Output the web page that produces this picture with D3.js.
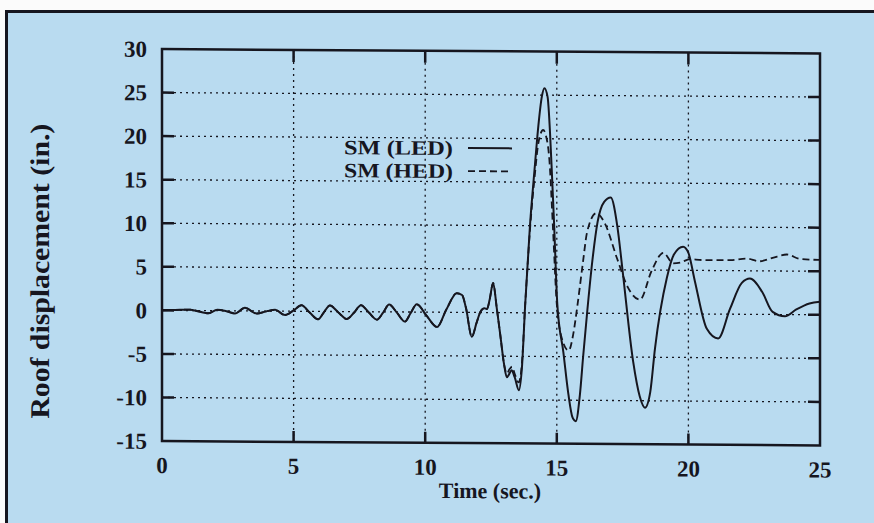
<!DOCTYPE html>
<html>
<head>
<meta charset="utf-8">
<script src="https://cdn.jsdelivr.net/npm/d3@7"></script>
<style>
  body { margin: 0; background: #fbfbfb; }
  text { font-family: "Liberation Serif", "Times New Roman", serif; font-weight: bold; fill: #16161f; }
</style>
</head>
<body>
<script>
// tick labels
const xTicks = [0, 5, 10, 15, 20, 25];
const yTicks = [-15, -10, -5, 0, 5, 10, 15, 20, 25, 30];
const seriesNames = ["SM (LED)", "SM (HED)"];

// both records coincide until about 13 s
const earlyTime = [0, 0.5, 1.06, 1.4, 1.75, 2.1, 2.45, 2.77, 3.15, 3.6, 3.95, 4.3, 4.67, 5.0, 5.3, 5.6, 5.93, 6.15, 6.38, 6.7,
  7.02, 7.3, 7.56, 7.86, 8.17, 8.4, 8.63, 8.93, 9.23, 9.45, 9.68, 10.05, 10.45, 10.8, 11.2, 11.4, 11.55, 11.77, 11.95, 12.1,
  12.25, 12.35, 12.45, 12.58, 12.72, 12.85, 13.0];
const earlyDisp = [0, 0.05, 0.1, -0.1, -0.3, 0.1, -0.05, -0.3, 0.35, -0.3, -0.05, 0.15, -0.45, 0.1, 0.7, -0.1, -0.9, -0.1, 0.7, -0.1,
  -0.85, -0.1, 0.75, -0.1, -0.9, -0.1, 0.85, -0.1, -1.1, -0.1, 0.9, -0.4, -1.7, 0.3, 2.2, 2.0, 0.5, -2.8, -1.2, 0.1,
  0.5, 0.4, 1.5, 3.4, 0.5, -2.5, -6.0];

// SM (LED), solid
const ledTime = earlyTime.concat([13.1, 13.2, 13.28, 13.4, 13.56, 13.67, 13.8, 13.98, 14.17, 14.3, 14.43, 14.53, 14.65, 14.8, 14.9,
  15.02, 15.25, 15.44, 15.6, 15.72, 15.88, 16.0, 16.15, 16.35, 16.55, 16.8, 17.05, 17.3, 17.5, 17.9, 18.15, 18.35, 18.55, 18.73,
  19.18, 19.45, 19.8, 20.0, 20.25, 20.7, 21.13, 21.58, 22.03, 22.34, 22.8, 23.2, 23.67, 24.1, 24.6, 25]);
const ledDisp = earlyDisp.concat([-7.4, -7.0, -6.6, -7.4, -8.9, -6.5, 1.0, 10, 17, 21.5, 24.8, 25.8, 24.8, 17, 10,
  1, -4.5, -9.3, -12, -12.4, -9.3, -5, 0, 6, 10.5, 12.8, 13.3, 10, 4.9, -5.5, -9.5, -10.8, -9, -4.0,
  4.1, 6.8, 7.7, 7.0, 3.7, -1.7, -2.8, 0.6, 3.6, 4.1, 2.6, 0.3, -0.2, 0.6, 1.3, 1.5]);

// SM (HED), dashed
const hedTime = earlyTime.concat([13.1, 13.2, 13.3, 13.4, 13.55, 13.67, 13.8, 13.98, 14.17, 14.3, 14.48, 14.6, 14.72, 14.85, 15.0,
  15.2, 15.45, 15.62, 15.78, 16.0, 16.15, 16.5, 16.83, 17.28, 17.7, 18.16, 18.6, 19.05, 19.42, 19.7,
  20.06, 20.5, 21.0, 21.6, 22.2, 22.7, 23.2, 23.74, 24.24, 25]);
const hedDisp = earlyDisp.concat([-7.0, -6.5, -6.2, -7.0, -8.0, -6, 1.0, 9.5, 16, 19.5, 21, 20.2, 17.5, 10, 1,
  -3, -4.3, -2.5, 0.8, 6, 9.3, 11.5, 10.3, 6.4, 3.0, 1.6, 4.9, 7.0, 5.8, 5.9,
  6.3, 6.2, 6.2, 6.2, 6.4, 6.1, 6.5, 6.9, 6.4, 6.3]);

const width = 874, height = 523;
const ink = "#16161f";
const svg = d3.select("body").append("svg")
  .attr("width", width)
  .attr("height", height);

// scanned page: blue panel with frame on top and left
svg.append("rect")
  .attr("x", 5).attr("y", 11)
  .attr("width", width - 5).attr("height", height - 11)
  .attr("fill", "#b9dbf0");
svg.append("path")
  .attr("d", `M6.5,${height}V11.5H${width}`)
  .attr("fill", "none")
  .attr("stroke", ink)
  .attr("stroke-width", 3);

// the scan is a little skewed, right side sits lower
const g = svg.append("g")
  .attr("transform", "translate(0,-1.1) skewY(0.39)");

const x = d3.scaleLinear().domain([0, 25]).range([162, 820]);
const y = d3.scaleLinear().domain([-15, 30]).range([441, 49]);
const [x0, x1] = x.range();
const [y0, y1] = y.range();

// dotted grid
const grid = g.append("g")
  .attr("stroke", ink)
  .attr("stroke-width", 1.3)
  .attr("stroke-dasharray", "2,4");
grid.selectAll(".gy")
  .data(yTicks.slice(1, -1))
  .join("line")
  .attr("x1", x0).attr("x2", x1)
  .attr("y1", d => y(d)).attr("y2", d => y(d));
grid.selectAll(".gx")
  .data(xTicks.slice(1, -1))
  .join("line")
  .attr("y1", y1).attr("y2", y0)
  .attr("x1", d => x(d)).attr("x2", d => x(d));

// curves
const line = d3.line()
  .x(d => x(d[0]))
  .y(d => y(d[1]))
  .curve(d3.curveMonotoneX);
const led = ledTime.map((t, i) => [t, ledDisp[i]]);
const hed = hedTime.map((t, i) => [t, hedDisp[i]]);

g.append("path")
  .datum(hed)
  .attr("fill", "none")
  .attr("stroke", ink)
  .attr("stroke-width", 1.8)
  .attr("stroke-dasharray", "7,4")
  .attr("d", line);
g.append("path")
  .datum(led)
  .attr("fill", "none")
  .attr("stroke", ink)
  .attr("stroke-width", 2)
  .attr("d", line);

// frame and inner ticks on all sides
g.append("rect")
  .attr("x", x0).attr("y", y1)
  .attr("width", x1 - x0).attr("height", y0 - y1)
  .attr("fill", "none")
  .attr("stroke", ink)
  .attr("stroke-width", 2.5);
const ticks = g.append("g").attr("stroke", ink).attr("stroke-width", 2.5);
ticks.selectAll(".tl")
  .data(yTicks.slice(1, -1))
  .join("path")
  .attr("d", d => `M${x0},${y(d)}h12M${x1},${y(d)}h-12`);
ticks.selectAll(".tb")
  .data(xTicks.slice(1, -1))
  .join("path")
  .attr("d", d => `M${x(d)},${y0}v-11M${x(d)},${y1}v12`);

// tick labels
g.selectAll(".ylab")
  .data(yTicks)
  .join("text")
  .attr("x", 147)
  .attr("y", d => y(d) + 8)
  .attr("text-anchor", "end")
  .attr("font-size", 23)
  .text(d => d);
g.selectAll(".xlab")
  .data(xTicks)
  .join("text")
  .attr("x", d => x(d))
  .attr("y", 473)
  .attr("text-anchor", "middle")
  .attr("font-size", 23)
  .text(d => d);

// axis titles
g.append("text")
  .attr("x", 490).attr("y", 496)
  .attr("text-anchor", "middle")
  .attr("font-size", 22)
  .text("Time (sec.)");
g.append("text")
  .attr("transform", "translate(49,272) rotate(-90)")
  .attr("text-anchor", "middle")
  .attr("font-size", 27)
  .attr("textLength", 295)
  .attr("lengthAdjust", "spacingAndGlyphs")
  .text("Roof displacement (in.)");

// legend
const legend = g.append("g");
const dashes = [null, "7,4"];
seriesNames.forEach((name, i) => {
  legend.append("text")
    .attr("x", 453).attr("y", 153 + i * 23)
    .attr("text-anchor", "end")
    .attr("font-size", 20.5)
    .attr("textLength", 109)
    .attr("lengthAdjust", "spacingAndGlyphs")
    .text(name);
  legend.append("line")
    .attr("x1", 468).attr("x2", 512)
    .attr("y1", 146 + i * 23).attr("y2", 146 + i * 23)
    .attr("stroke", ink)
    .attr("stroke-width", i ? 1.8 : 2)
    .attr("stroke-dasharray", dashes[i]);
});
</script>
</body>
</html>
